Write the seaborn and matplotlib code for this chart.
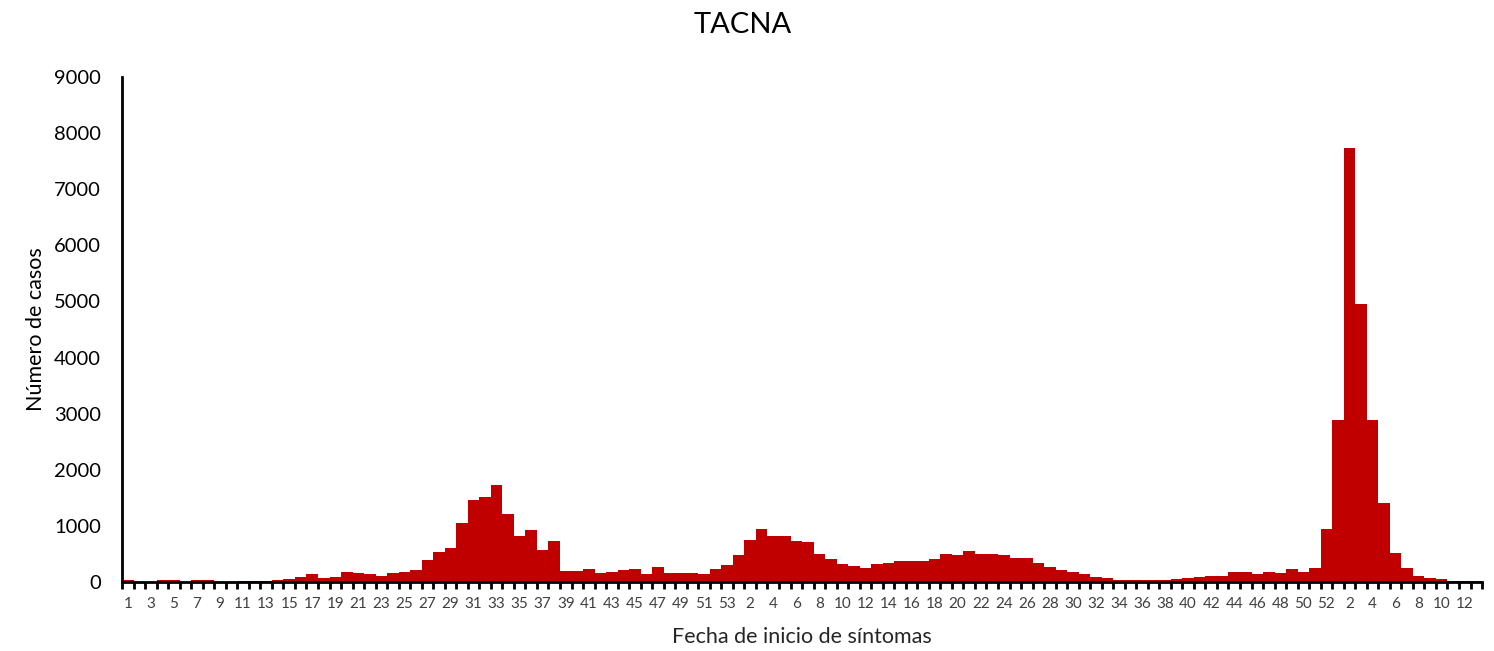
import numpy as np
import pandas as pd
import matplotlib
matplotlib.use("Agg")
import matplotlib.pyplot as plt
import seaborn as sns

# Weekly cases, epidemiological weeks 2020 (1-53), 2021 (1-52), 2022 (1-13)
cases_2020 = [30, 0, 0, 30, 30, 0, 30, 30, 0, 0,
              25, 25, 25, 30, 55, 95, 137, 70, 95, 185,
              160, 137, 113, 160, 185, 208, 387, 530, 613, 1054,
              1464, 1506, 1720, 1214, 821, 935, 571, 732, 200, 200,
              230, 160, 180, 210, 230, 140, 270, 160, 160, 160,
              140, 230, 300]
cases_2021 = [480, 750, 940, 820, 820, 730, 710, 500, 410, 320,
              290, 250, 320, 340, 370, 370, 370, 410, 500, 480,
              550, 500, 500, 480, 430, 430, 340, 270, 210, 180,
              140, 90, 70, 40, 40, 40, 40, 40, 45, 70,
              90, 110, 110, 180, 180, 140, 180, 160, 230, 180,
              250, 940]
cases_2022 = [2880, 7730, 4960, 2880, 1410, 520, 250, 115, 70, 45,
              25, 25, 25]

weeks = (list(range(1, 54)) + list(range(1, 53)) + list(range(1, 14)))
cases = cases_2020 + cases_2021 + cases_2022

df = pd.DataFrame({"idx": np.arange(len(cases)), "week": weeks, "cases": cases})

sns.set_style("white")
plt.rcParams["font.family"] = ["Lato", "DejaVu Sans"]

fig = plt.figure(figsize=(14.94, 6.51), dpi=100)
ax = fig.add_axes([0.0817, 0.106, 0.9103, 0.7757])

sns.barplot(data=df, x="idx", y="cases", color="#C00000", width=1.0,
            saturation=1, edgecolor="none", linewidth=0, ax=ax)

n = len(cases)
ax.set_xlim(-0.5, n - 0.5)
ax.set_ylim(0, 9000)
ax.set_yticks(np.arange(0, 9001, 1000))
ax.tick_params(axis="y", length=0, labelsize=14.5, pad=15, labelcolor="black")

# labels on every other bar, tick marks at bar boundaries
lab_pos = np.arange(0, n, 2)
ax.set_xticks(lab_pos)
ax.set_xticklabels([str(weeks[i]) for i in lab_pos])
ax.set_xticks(np.arange(-0.5, n, 1), minor=True)
ax.tick_params(axis="x", which="major", length=0, labelsize=11, pad=11, labelcolor="#404040")
ax.tick_params(axis="x", which="minor", length=5, width=2, color="black", direction="out", bottom=True)

for side in ["top", "right"]:
    ax.spines[side].set_visible(False)
for side in ["left", "bottom"]:
    ax.spines[side].set_color("black")
    ax.spines[side].set_linewidth(2)

ax.set_xlabel("Fecha de inicio de síntomas", fontsize=15.5, color="#262626", labelpad=11)
ax.set_ylabel("Número de casos", fontsize=15.5, color="black", labelpad=6)
fig.text(0.497, 0.962, "TACNA", ha="center", va="center", fontsize=21, color="black")

fig.savefig("out.png", dpi=100)
